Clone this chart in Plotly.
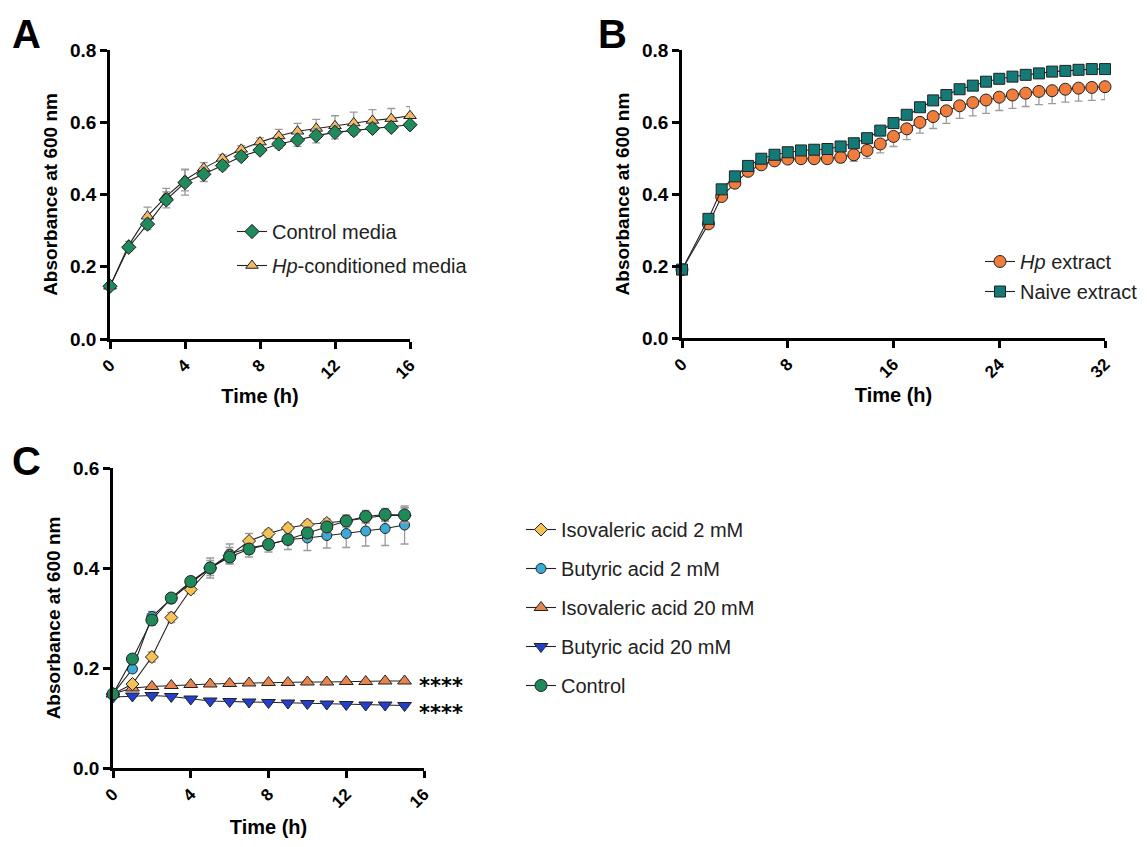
import plotly.graph_objects as go

# ---------------- Panel A data ----------------
time_a = list(range(0, 17))
control_media = [0.146, 0.254, 0.318, 0.385, 0.433, 0.456, 0.480, 0.505, 0.523, 0.540, 0.551, 0.563, 0.572, 0.577, 0.583, 0.586, 0.593]
control_media_err = [0.004, 0.01, 0.015, 0.022, 0.035, 0.02, 0.012, 0.01, 0.01, 0.012, 0.018, 0.02, 0.018, 0.012, 0.01, 0.01, 0.008]
hp_cond_media = [0.146, 0.260, 0.340, 0.395, 0.440, 0.473, 0.500, 0.525, 0.545, 0.562, 0.575, 0.583, 0.590, 0.598, 0.605, 0.610, 0.618]
hp_cond_media_err = [0.004, 0.01, 0.025, 0.022, 0.03, 0.015, 0.01, 0.01, 0.012, 0.018, 0.022, 0.025, 0.028, 0.03, 0.03, 0.028, 0.025]

# ---------------- Panel B data ----------------
time_b = [0] + list(range(2, 33))
hp_extract = [0.190, 0.317, 0.393, 0.430, 0.463, 0.481, 0.492, 0.497, 0.498, 0.498, 0.498, 0.502, 0.509, 0.521, 0.539,
              0.560, 0.581, 0.599, 0.615, 0.631, 0.645, 0.654, 0.661, 0.669, 0.675, 0.680, 0.685, 0.687, 0.691, 0.694, 0.696, 0.698]
hp_extract_err = [0.005, 0.008, 0.01, 0.01, 0.01, 0.01, 0.01, 0.01, 0.012, 0.012, 0.012, 0.015, 0.018, 0.022, 0.025,
                  0.028, 0.03, 0.03, 0.033, 0.035, 0.035, 0.037, 0.037, 0.037, 0.037, 0.037, 0.037, 0.036, 0.036, 0.036, 0.036, 0.036]
naive_extract = [0.190, 0.331, 0.413, 0.449, 0.478, 0.498, 0.509, 0.516, 0.521, 0.523, 0.525, 0.532, 0.541, 0.555, 0.576,
                 0.597, 0.620, 0.641, 0.660, 0.675, 0.691, 0.701, 0.712, 0.720, 0.726, 0.731, 0.735, 0.740, 0.742, 0.745, 0.747, 0.747]
naive_extract_err = [0.004] * 32

# ---------------- Panel C data ----------------
time_c = list(range(0, 16))
iso_2 = [0.148, 0.168, 0.222, 0.301, 0.357, 0.400, 0.425, 0.454, 0.469, 0.480, 0.487, 0.490, 0.494, 0.500, 0.505, 0.505]
iso_2_err = [0.004, 0.005, 0.01, 0.01, 0.008, 0.02, 0.016, 0.015, 0.008, 0.008, 0.008, 0.008, 0.01, 0.01, 0.012, 0.015]
but_2 = [0.148, 0.198, 0.303, 0.338, 0.370, 0.400, 0.428, 0.440, 0.447, 0.457, 0.460, 0.465, 0.469, 0.474, 0.479, 0.486]
but_2_err = [0.004, 0.006, 0.01, 0.008, 0.008, 0.015, 0.02, 0.018, 0.015, 0.02, 0.025, 0.025, 0.028, 0.03, 0.034, 0.038]
iso_20 = [0.148, 0.160, 0.163, 0.165, 0.167, 0.168, 0.169, 0.170, 0.171, 0.171, 0.172, 0.172, 0.173, 0.173, 0.174, 0.174]
iso_20_err = [0.002] * 16
but_20 = [0.142, 0.144, 0.145, 0.143, 0.138, 0.134, 0.133, 0.132, 0.131, 0.130, 0.129, 0.128, 0.127, 0.126, 0.126, 0.125]
but_20_err = [0.002] * 16
control_c = [0.148, 0.218, 0.296, 0.340, 0.373, 0.400, 0.422, 0.438, 0.447, 0.457, 0.470, 0.482, 0.494, 0.503, 0.507, 0.506]
control_c_err = [0.004, 0.006, 0.01, 0.008, 0.008, 0.01, 0.01, 0.01, 0.01, 0.01, 0.012, 0.012, 0.012, 0.012, 0.012, 0.015]
significance = ["****", "****"]  # Isovaleric 20 mM, Butyric 20 mM

FONT = "Liberation Sans, Arial, sans-serif"
ERR_COLOR = "#9b9b9b"
OFF = 8  # page body margin
W, H = 1147 - 2 * OFF, 847 - 2 * OFF


def px_x(p):
    return (p - OFF) / W


def px_y(p):
    return 1 - (p - OFF) / H


fig = go.Figure()


def add(x, y, err, name, color, symbol, size, xa, ya, legend, rank, err_minus=None):
    ed = dict(type="data", array=err, color=ERR_COLOR, thickness=1.3, width=4, visible=True)
    if err_minus is not None:
        ed = dict(type="data", array=err_minus[0], arrayminus=err_minus[1], symmetric=False,
                  color=ERR_COLOR, thickness=1.3, width=4, visible=True)
    fig.add_trace(go.Scatter(
        x=x, y=y, name=name, mode="lines+markers",
        line=dict(color="#222222", width=1.1),
        marker=dict(color=color, symbol=symbol, size=size, line=dict(color="#222222", width=1)),
        error_y=ed, xaxis=xa, yaxis=ya, legend=legend, legendrank=rank, legendgroup=name,
        cliponaxis=False,
    ))


# Panel A
add(time_a, hp_cond_media, hp_cond_media_err, "<i>Hp</i>-conditioned media", "#f5b964", "triangle-up", 11,
    "x", "y", "legend", 2)
add(time_a, control_media, control_media_err, "Control media", "#1f8a5c", "diamond", 11,
    "x", "y", "legend", 1)

# Panel B
add(time_b, hp_extract, hp_extract_err, "<i>Hp</i> extract", "#f07d3c", "circle", 12,
    "x2", "y2", "legend2", 1, err_minus=([0] * 32, hp_extract_err))
add(time_b, naive_extract, naive_extract_err, "Naive extract", "#137a78", "square", 11,
    "x2", "y2", "legend2", 2)

# Panel C
add(time_c, iso_20, iso_20_err, "Isovaleric acid 20 mM", "#e8844c", "triangle-up", 12, "x3", "y3", "legend3", 3)
add(time_c, but_20, but_20_err, "Butyric acid 20 mM", "#2340cc", "triangle-down", 12, "x3", "y3", "legend3", 4)
add(time_c, but_2, but_2_err, "Butyric acid 2 mM", "#3aabd6", "circle", 10, "x3", "y3", "legend3", 2)
add(time_c, iso_2, iso_2_err, "Isovaleric acid 2 mM", "#f7c255", "diamond", 10, "x3", "y3", "legend3", 1)
add(time_c, control_c, control_c_err, "Control", "#1e8a5a", "circle", 12, "x3", "y3", "legend3", 5)

axis_common = dict(
    showline=True, linecolor="black", linewidth=2.5, ticks="outside", ticklen=7, tickwidth=2.5,
    tickcolor="black", showgrid=False, zeroline=False, mirror=False, automargin=False,
    tickfont=dict(family=FONT, size=19, color="black", weight="bold"),
)
xtitle_font = dict(family=FONT, size=20, color="black", weight="bold")
ytitle_font = dict(family=FONT, size=19, color="black", weight="bold")

xa_common = dict(axis_common, tickangle=-45, tickfont=dict(family=FONT, size=17, color="black", weight="bold"))
leg_font = dict(family=FONT, size=20, color="#222222")

fig.update_layout(
    width=W, height=H, autosize=False,
    margin=dict(l=0, r=0, t=0, b=0, autoexpand=False),
    paper_bgcolor="white", plot_bgcolor="white",
    font=dict(family=FONT, color="black"),
    xaxis=dict(xa_common, domain=[px_x(110), px_x(410)], range=[0, 16], tick0=0, dtick=4, anchor="y",
               title=dict(text="Time (h)", font=xtitle_font, standoff=8)),
    yaxis=dict(axis_common, domain=[px_y(339), px_y(50)], range=[0, 0.8], dtick=0.2, tickformat=".1f", anchor="x",
               title=dict(text="Absorbance at 600 nm", font=ytitle_font, standoff=8)),
    xaxis2=dict(xa_common, domain=[px_x(682), px_x(1105)], range=[0, 32], tick0=0, dtick=8, anchor="y2",
                title=dict(text="Time (h)", font=xtitle_font, standoff=8)),
    yaxis2=dict(axis_common, domain=[px_y(338), px_y(50)], range=[0, 0.8], dtick=0.2, tickformat=".1f", anchor="x2",
                title=dict(text="Absorbance at 600 nm", font=ytitle_font, standoff=8)),
    xaxis3=dict(xa_common, domain=[px_x(113), px_x(424)], range=[0, 16], tick0=0, dtick=4, anchor="y3",
                title=dict(text="Time (h)", font=xtitle_font, standoff=10)),
    yaxis3=dict(axis_common, domain=[px_y(768), px_y(468)], range=[0, 0.6], dtick=0.2, tickformat=".1f", anchor="x3",
                title=dict(text="Absorbance at 600 nm", font=ytitle_font, standoff=8)),
    legend=dict(x=px_x(232), y=px_y(212), xanchor="left", yanchor="top", bgcolor="rgba(0,0,0,0)",
                font=leg_font, traceorder="grouped", tracegroupgap=5),
    legend2=dict(x=px_x(980), y=px_y(242), xanchor="left", yanchor="top", bgcolor="rgba(0,0,0,0)",
                 font=leg_font, traceorder="grouped", tracegroupgap=1),
    legend3=dict(x=px_x(521), y=px_y(510), xanchor="left", yanchor="top", bgcolor="rgba(0,0,0,0)",
                 font=leg_font, traceorder="grouped", tracegroupgap=10),
    showlegend=True,
)

# panel letters
for letter, xp, yp in [("A", 10, 10), ("B", 596, 10), ("C", 10, 437)]:
    fig.add_annotation(text=letter, x=px_x(xp), y=px_y(yp), xref="paper", yref="paper",
                       xanchor="left", yanchor="top", showarrow=False, valign="middle",
                       font=dict(family=FONT, size=40, color="black", weight="bold"))

# significance stars next to the 20 mM series (one two-line text)
fig.add_annotation(text="<br>".join(significance), x=time_c[-1], y=(iso_20[-1] + but_20[-1]) / 2,
                   xref="x3", yref="y3", xanchor="left", yanchor="middle", align="left",
                   xshift=12, yshift=-6, showarrow=False,
                   font=dict(family="DejaVu Sans", size=21, color="black", weight="bold"))

fig.write_html("out.html")
